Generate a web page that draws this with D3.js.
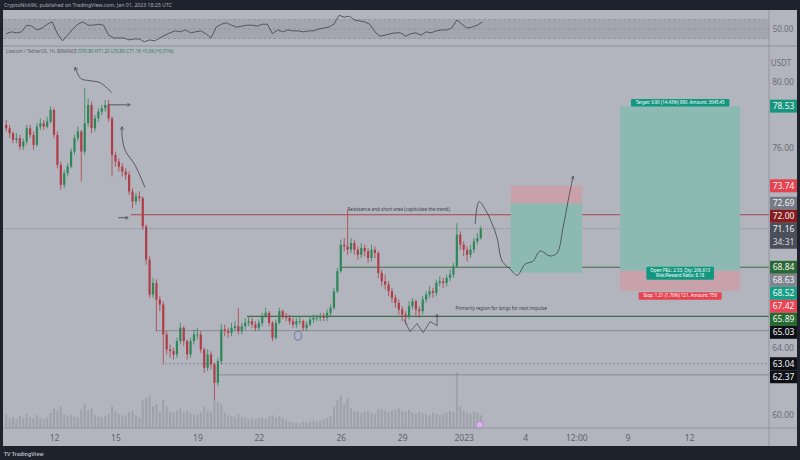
<!DOCTYPE html>
<html><head><meta charset="utf-8">
<script src="https://cdn.jsdelivr.net/npm/d3@7"></script>
<style>body{margin:0;background:#1e222d;}svg{display:block;font-family:"Noto Sans",Roboto,sans-serif}</style>
</head><body><svg id="c" width="800" height="460"></svg>
<script>
// ---------- DATA ----------
const firstOpen = 77.4;
const closes = [77.2,76.9,76.5,76.6,76.1,76.4,77.2,76.8,76.2,77.3,
 77.5,77.3,77.6,78.3,76.8,75.0,73.8,74.5,74.9,75.8,
 76.6,77.0,75.8,77.5,78.6,77.2,77.8,78.2,78.4,78.6,
 77.8,75.6,75.2,74.9,74.6,74.4,73.4,72.8,73.1,73.0,
 71.3,69.3,67.2,67.9,66.9,66.6,64.8,63.9,63.8,63.6,
 64.4,65.2,64.4,63.6,64.4,64.8,64.8,63.9,62.8,63.6,
 63.0,61.9,63.2,65.1,65.0,64.9,65.2,65.3,65.0,65.3,
 65.5,65.6,65.4,65.2,65.5,65.9,66.1,65.5,64.6,65.5,
 66.2,65.9,65.8,65.6,65.4,65.6,65.6,65.2,65.4,65.7,
 65.8,65.8,65.9,65.8,66.1,66.4,67.4,68.6,70.2,70.1,
 69.9,70.3,69.9,69.6,70.0,69.8,69.4,69.9,69.7,68.5,
 68.0,67.8,67.4,67.0,66.7,66.3,66.0,65.9,66.5,66.8,
 66.3,66.2,66.9,67.2,67.4,67.3,67.9,68.0,67.9,68.2,
 68.4,68.9,70.8,70.2,69.9,69.6,69.9,70.4,70.6,71.16];
const highs = [77.7,77.4,77.0,76.9,76.8,76.6,77.4,77.4,77.0,77.5,
 77.8,77.7,77.9,78.5,78.4,77.0,75.2,74.7,75.1,76.0,
 76.8,77.3,77.1,79.6,79.0,78.8,78.0,78.4,78.6,78.9,
 78.9,77.9,75.8,75.4,75.1,74.8,74.6,73.6,73.3,73.4,
 73.1,71.4,69.5,68.2,68.1,67.1,66.8,65.0,64.2,64.0,
 64.6,65.5,65.3,64.5,64.6,65.1,65.2,65.0,64.0,63.9,
 63.8,63.1,63.4,65.4,65.4,65.2,65.5,65.6,66.4,65.5,
 65.8,65.9,65.8,65.6,65.7,66.1,66.4,66.2,65.6,65.7,
 66.4,66.3,66.1,66.0,65.8,65.8,65.9,65.7,65.6,65.9,
 66.0,66.0,66.1,66.1,66.3,66.6,67.6,68.8,70.5,70.6,
 72.3,70.6,70.5,70.1,70.3,70.2,70.0,70.2,70.1,69.8,
 68.7,68.4,68.0,67.6,67.2,66.9,66.5,66.2,66.8,67.0,
 66.9,66.5,67.1,67.4,67.7,67.6,68.1,68.3,68.2,68.4,
 68.7,69.1,71.5,71.0,70.4,70.1,70.2,70.6,70.9,71.3];
const lows = [77.0,76.6,76.3,76.3,75.9,75.9,76.2,76.6,75.9,76.1,
 77.1,77.1,77.2,77.5,76.6,74.8,73.5,73.6,74.3,74.8,
 75.6,76.4,74.0,75.6,77.3,76.9,77.0,77.6,78.0,78.2,
 77.6,74.3,74.9,74.6,74.3,74.1,73.2,72.4,72.6,72.8,
 71.1,69.0,67.0,67.0,65.0,66.2,63.0,63.6,63.4,63.3,
 63.4,64.2,64.1,63.3,63.4,64.2,64.5,63.7,62.5,62.6,
 62.7,60.9,61.7,63.0,64.7,64.6,64.7,65.0,64.8,64.8,
 65.1,65.3,65.2,65.0,65.0,65.3,65.8,65.3,64.4,64.5,
 65.4,65.7,65.6,65.4,65.2,65.2,65.4,65.0,65.0,65.3,
 65.5,65.6,65.6,65.6,65.6,65.9,66.3,67.3,68.5,69.8,
 69.6,69.7,69.6,69.3,69.4,69.5,69.1,69.2,69.4,68.2,
 67.7,67.5,67.1,66.7,66.4,66.0,65.6,65.4,65.7,66.3,
 65.9,65.8,66.0,66.7,67.0,67.0,67.1,67.7,67.6,67.7,
 68.0,68.2,68.8,69.9,69.5,69.2,69.4,69.7,70.2,70.5];
const volumes = [120,90,100,80,110,90,130,100,95,120,
 90,85,100,140,180,160,200,130,110,120,
 110,100,170,220,160,180,120,110,100,110,
 130,200,150,130,120,110,150,160,120,100,
 260,280,300,200,220,150,260,200,150,140,
 160,180,150,160,140,130,120,150,200,160,
 150,280,240,220,140,120,110,100,130,100,
 90,80,90,80,90,100,90,110,120,100,
 110,90,70,60,50,50,45,60,50,60,
 70,60,70,80,90,110,200,260,300,220,
 280,180,160,150,140,150,160,140,130,180,
 170,160,150,160,170,180,160,150,170,140,
 130,150,140,130,120,140,130,120,130,140,
 160,150,520,200,160,140,130,150,140,120];
const rsiValues = [40,44,42,44,58,56,48,52,60,65,40,25,37,50,60,65,58,58,60,58,
 37,31,31,31,27,29,29,23,27,25,31,37,42,46,44,48,42,44,46,40,
 31,54,60,63,58,54,56,58,58,56,60,60,40,48,44,48,46,46,44,46,
 46,50,52,54,60,79,75,77,69,67,65,60,44,35,37,40,42,42,35,40,
 42,37,44,42,46,48,48,52,69,60,52,54,58,65];
const priceTicks = [80,78,76,74,72,70,68,66,64,62,60];
const dateTicks = ["2022-12-12","2022-12-15","2022-12-19","2022-12-22","2022-12-26","2022-12-29","2023-01-01","2023-01-04","2023-01-06T12:00","2023-01-09","2023-01-12"];
const dateLabels = ["12","15","19","22","26","29","2023","4","12:00","9","12"];
// horizontal levels: price, start (days after Dec 12), kind
const levelPrices = [72.00, 65.03, 63.04, 62.37, 65.89, 68.84];
const levelStarts = [3.76, 4.93, 5.42, 7.96, 9.42, 13.96];
const levelKinds  = ["red","grey","dotted","grey","green","green"];
// position tools
const shortPos = {entry:72.69, stop:73.74, target:68.52, from:22.3, to:25.78};
const longPos  = {entry:68.63, stop:67.42, target:78.53, from:27.64, to:33.5};
// axis price labels
const axisLabels = [
 {p:78.53,c:"#17967f"},{p:73.74,c:"#e5434f"},{p:72.69,c:"#767a84"},{p:72.00,c:"#861c1e"},
 {p:71.16,c:"#4b4f5a",sub:"34:31"},{p:68.84,c:"#2b6934"},{p:68.63,c:"#80848e"},{p:68.52,c:"#17a088"},
 {p:67.42,c:"#ea4553"},{p:65.89,c:"#256a30"},{p:65.03,c:"#0e1015"},{p:63.04,c:"#0e1015"},{p:62.37,c:"#0e1015"}];
// hand-drawn annotations (days after Dec 12, price)
const curveTop = [[1.03,80.85],[1.32,80.18],[1.76,80.06],[2.25,79.94],[2.83,79.33]];
const arrowTop = [[2.64,78.61],[3.71,78.61]];
const curveFall = [[3.32,77.27],[3.32,76.79],[3.47,75.88],[3.96,74.97],[4.44,73.64]];
const arrowSmall = [[3.13,71.82],[3.61,71.82]];
const projection = [[20.56,71.45],[20.75,72.79],[21.09,72.24],[21.39,71.45],[21.63,70.61],[21.88,69.21],[22.27,68.73],[22.61,68.36],[23.0,69.03],[23.39,69.21],[23.73,69.82],[24.22,69.52],[24.56,69.7],[24.85,71.21],[25.10,72.85],[25.34,74.3]];
const zigzag = [[17.09,65.7],[17.38,64.97],[17.72,65.45],[18.02,64.91],[18.36,65.58],[18.70,65.33],[18.70,66.0]];
const ellipseAt = [11.91,64.73];
const noteResistance = {d:16.85,p:72.30,t:"Resistance and short area (capitulate the trend)."};
const noteSupport = {d:21.83,p:66.36,t:"Primarily region for longs for next impulse"};

// ---------- SETUP ----------
const svg = d3.select("#c");
const BG = "#b2b5bd";
const D0 = Date.UTC(2022,11,12);
const T0 = Date.UTC(2022,11,9,16);
const H = 3600e3;
const dayDate = d => new Date(D0 + d*864e5);
const x = d3.scaleUtc().domain([new Date(D0), new Date(Date.UTC(2023,0,12))]).range([54,689]);
const y = d3.scaleLinear().domain([60,80]).range([414.3,81.7]);
const yr = d3.scaleLinear().domain([30,70]).range([38.5,19.5]);
const yv = d3.scaleLinear().domain([0,520]).range([428,372]);
const PX0=3, PX1=769, AX1=797;

// frame
svg.append("rect").attr("x",0).attr("y",0).attr("width",800).attr("height",460).attr("fill","#1e222d");
svg.append("rect").attr("x",PX0).attr("y",10).attr("width",AX1-PX0).attr("height",436).attr("fill",BG);
svg.append("text").attr("x",4).attr("y",7).attr("fill","#aeb1ba").attr("font-size",5.2)
  .text("CryptoNick96, published on TradingView.com, Jan 01, 2023 18:25 UTC");
svg.append("text").attr("x",4).attr("y",456).attr("fill","#aeb1ba").attr("font-size",5.2).attr("font-weight","bold")
  .text("TV TradingView");

const defs = svg.append("defs");
defs.append("clipPath").attr("id","main").append("rect").attr("x",PX0).attr("y",46).attr("width",PX1-PX0).attr("height",382);
defs.append("clipPath").attr("id","rsi").append("rect").attr("x",PX0).attr("y",10).attr("width",PX1-PX0).attr("height",36);
defs.append("marker").attr("id","ah").attr("viewBox","0 0 10 10").attr("refX",8).attr("refY",5)
  .attr("markerWidth",5).attr("markerHeight",5).attr("orient","auto-start-reverse")
  .append("path").attr("d","M0,0 L9,5 L0,10").attr("fill","none").attr("stroke","#3d414b").attr("stroke-width",1.5);

// ---------- RSI PANE ----------
const rp = svg.append("g").attr("clip-path","url(#rsi)");
rp.append("rect").attr("x",PX0).attr("y",yr(70)).attr("width",PX1-PX0).attr("height",yr(30)-yr(70)).attr("fill","#a3a6ae");
[70,50,30].forEach(v=>rp.append("line").attr("x1",PX0).attr("x2",PX1).attr("y1",yr(v)).attr("y2",yr(v))
  .attr("stroke","#8b8e97").attr("stroke-width",0.7).attr("stroke-dasharray","3,2"));
rp.append("path").datum(rsiValues).attr("fill","none").attr("stroke","#4a4d57").attr("stroke-width",0.9)
  .attr("d",d3.line().x((d,k)=>x(new Date(T0+k*6*H))).y(d=>yr(d)));
svg.append("line").attr("x1",PX0).attr("x2",AX1).attr("y1",46).attr("y2",46).attr("stroke","#8e919a").attr("stroke-width",1);
svg.append("text").attr("x",783).attr("y",yr(50)+3).attr("text-anchor","middle").attr("font-size",8).attr("fill","#6a6d77").text("50.00");

// ---------- MAIN PANE ----------
const mp = svg.append("g").attr("clip-path","url(#main)");
// volume
mp.append("g").selectAll("rect").data(volumes).join("rect")
  .attr("x",(d,i)=>x(new Date(T0+i*4*H))-1).attr("width",2)
  .attr("y",d=>yv(d)).attr("height",d=>428-yv(d)).attr("fill","#9ea1aa");

// levels
const levelColor = {red:"#a2494f",grey:"#83868f",dotted:"#83868f",green:"#3d6e46"};
levelPrices.forEach((p,k)=>{
  mp.append("line").attr("x1",x(dayDate(levelStarts[k]))).attr("x2",PX1).attr("y1",y(p)).attr("y2",y(p))
    .attr("stroke",levelColor[levelKinds[k]]).attr("stroke-width",levelKinds[k]==="green"||levelKinds[k]==="red"?1.1:0.9)
    .attr("stroke-dasharray",levelKinds[k]==="dotted"?"2,2":null);
});
// current price line
mp.append("line").attr("x1",PX0).attr("x2",PX1).attr("y1",y(closes[closes.length-1])).attr("y2",y(closes[closes.length-1]))
  .attr("stroke","#80838c").attr("stroke-width",0.8).attr("stroke-dasharray","1,1");

// position boxes
function posBox(pos){
  const x0=x(dayDate(pos.from)), x1=x(dayDate(pos.to));
  const yT=y(pos.target), yS=y(pos.stop), yE=y(pos.entry);
  mp.append("rect").attr("x",x0).attr("width",x1-x0).attr("y",Math.min(yT,yE)).attr("height",Math.abs(yT-yE)).attr("fill","#8cbab3");
  mp.append("rect").attr("x",x0).attr("width",x1-x0).attr("y",Math.min(yS,yE)).attr("height",Math.abs(yS-yE)).attr("fill","#c9a1aa");
}
posBox(shortPos);
posBox(longPos);

// candles
const cg = mp.append("g");
closes.forEach((c,i)=>{
  const o = i===0?firstOpen:closes[i-1];
  const cx = x(new Date(T0+i*4*H));
  const col = c>=o ? "#2f8659" : "#b03e48";
  cg.append("line").attr("x1",cx).attr("x2",cx).attr("y1",y(highs[i])).attr("y2",y(lows[i])).attr("stroke",col).attr("stroke-width",0.8);
  cg.append("rect").attr("x",cx-1.1).attr("width",2.2).attr("y",y(Math.max(o,c))).attr("height",Math.max(0.8,Math.abs(y(o)-y(c)))).attr("fill",col);
});

// annotations
const ln = d3.line().x(d=>x(dayDate(d[0]))).y(d=>y(d[1])).curve(d3.curveCatmullRom);
const annStroke = "#3d414b";
mp.append("path").datum(curveTop).attr("d",ln).attr("fill","none").attr("stroke",annStroke).attr("stroke-width",0.8).attr("marker-start","url(#ah)");
mp.append("path").datum(arrowTop).attr("d",ln).attr("fill","none").attr("stroke",annStroke).attr("stroke-width",0.8).attr("marker-end","url(#ah)");
mp.append("path").datum(curveFall).attr("d",ln).attr("fill","none").attr("stroke",annStroke).attr("stroke-width",0.8).attr("marker-start","url(#ah)");
mp.append("path").datum(arrowSmall).attr("d",ln).attr("fill","none").attr("stroke",annStroke).attr("stroke-width",0.8).attr("marker-end","url(#ah)");
mp.append("path").datum(projection).attr("d",ln).attr("fill","none").attr("stroke",annStroke).attr("stroke-width",0.8).attr("marker-end","url(#ah)");
mp.append("path").datum(zigzag).attr("d",d3.line().x(d=>x(dayDate(d[0]))).y(d=>y(d[1]))).attr("fill","none").attr("stroke",annStroke).attr("stroke-width",0.7).attr("marker-end","url(#ah)");
mp.append("ellipse").attr("cx",x(dayDate(ellipseAt[0]))).attr("cy",y(ellipseAt[1])).attr("rx",3.5).attr("ry",4.5)
  .attr("fill","none").attr("stroke","#5468a0").attr("stroke-width",0.8);
[noteResistance,noteSupport].forEach(n=>mp.append("text").attr("x",x(dayDate(n.d))).attr("y",y(n.p)+1.5)
  .attr("text-anchor","middle").attr("font-size",4.6).attr("fill","#3d414b").text(n.t));

// position labels
function tag(cx, cy, lines, fill){
  const w = d3.max(lines,l=>l.length)*2.2+6, h = lines.length*5.5+2;
  mp.append("rect").attr("x",cx-w/2).attr("y",cy-h/2).attr("width",w).attr("height",h).attr("rx",1).attr("fill",fill);
  lines.forEach((l,k)=>mp.append("text").attr("x",cx).attr("y",cy-h/2+5.2+k*5.5).attr("text-anchor","middle")
    .attr("font-size",4.4).attr("fill","#ffffff").text(l));
}
const lx = (x(dayDate(longPos.from))+x(dayDate(longPos.to)))/2;
tag(lx, y(longPos.target)-3.5, ["Target: 9.90 (14.43%) 990, Amount: 3045.45"], "#139780");
tag(lx, y(longPos.entry)+2.5, ["Open P&L: 2.53, Qty: 206.613","Risk/Reward Ratio: 8.18"], "#139780");
tag(lx, y(longPos.stop)+5, ["Stop: 1.21 (1.76%) 121, Amount: 750"], "#e5434f");

// event marker
svg.append("circle").attr("cx",x(new Date(T0+139*4*H))-1).attr("cy",425).attr("r",3.6).attr("fill","#d8b4e8").attr("stroke","#b07ac8").attr("stroke-width",0.7);

// ---------- AXES ----------
svg.append("line").attr("x1",PX0).attr("x2",AX1).attr("y1",428).attr("y2",428).attr("stroke","#8e919a").attr("stroke-width",0.8);
svg.append("line").attr("x1",PX1).attr("x2",PX1).attr("y1",10).attr("y2",446).attr("stroke","#8e919a").attr("stroke-width",0.8);

const xa = svg.append("g").attr("transform","translate(0,432)")
  .call(d3.axisBottom(x).tickValues(dateTicks.map(s=>new Date(s+(s.includes("T")?"Z":"T00:00Z")))).tickSize(0).tickFormat((d,i)=>dateLabels[i]));
xa.select(".domain").remove();
xa.selectAll("text").attr("font-size",8.5).attr("fill","#5f626c").attr("font-family","Noto Sans, sans-serif");

// axis price labels with collision avoidance (compute boxes first)
const boxes = [];
let lastBottom = -Infinity;
axisLabels.slice().sort((a,b)=>b.p-a.p).forEach(l=>{
  const hh = l.sub?26:13;
  const top = Math.max(y(l.p)-6.5, lastBottom);
  lastBottom = top+hh;
  boxes.push({l, top, hh});
});
// tick labels hidden where a price label covers them
const visibleTicks = priceTicks.filter(t=>!boxes.some(b=>y(t)+4>b.top && y(t)-4<b.top+b.hh));
const ya = svg.append("g").attr("transform",`translate(${PX1},0)`)
  .call(d3.axisRight(y).tickValues(visibleTicks).tickSize(0).tickFormat(d3.format(".2f")));
ya.select(".domain").remove();
ya.selectAll("text").attr("x",14).attr("text-anchor","middle").attr("font-size",8.5).attr("fill","#6a6d77").attr("font-family","Noto Sans, sans-serif");
svg.append("text").attr("x",781).attr("y",66).attr("text-anchor","middle").attr("font-size",8).attr("fill","#6a6d77").text("USDT");

boxes.forEach(({l,top,hh})=>{
  svg.append("rect").attr("x",PX1+1).attr("y",top).attr("width",AX1-PX1-1).attr("height",hh).attr("fill",l.c);
  svg.append("text").attr("x",(PX1+AX1)/2+0.5).attr("y",top+9.3).attr("text-anchor","middle").attr("font-size",8.5).attr("fill","#f2f3f5").text(l.p.toFixed(2));
  if(l.sub) svg.append("text").attr("x",(PX1+AX1)/2+0.5).attr("y",top+22).attr("text-anchor","middle").attr("font-size",8.5).attr("fill","#d6d8dd").text(l.sub);
});

// legend
const lg = svg.append("text").attr("x",6).attr("y",52.5).attr("font-size",4.6).attr("fill","#5c5f69");
lg.append("tspan").text("Litecoin / TetherUS, 1h, BINANCE  ");
lg.append("tspan").attr("fill","#2f7d55").text("O70.80 H71.20 L70.80 C71.16 +0.36 (+0.51%)");
</script></body></html>
